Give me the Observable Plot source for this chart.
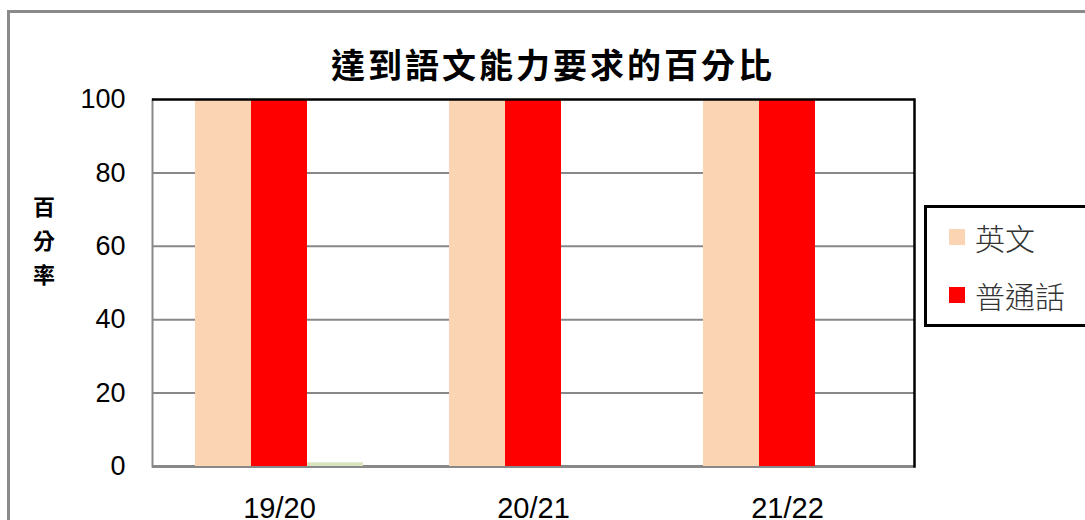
<!DOCTYPE html>
<html>
<head>
<meta charset="utf-8">
<script src="https://cdn.jsdelivr.net/npm/d3@7"></script>
<script src="https://cdn.jsdelivr.net/npm/@observablehq/plot@0.6"></script>
<style>
  html, body { margin: 0; padding: 0; background: #fff; }
  #wrap { position: relative; width: 1085px; height: 520px; overflow: hidden; background: #fff; }
  #outer { position: absolute; left: 7px; top: 10px; width: 1200px; height: 700px; border: 3px solid #8a8a8a; box-sizing: border-box; }
  #title { position: absolute; left: 0; width: 1106px; top: 44px; text-align: center; font-family: "Noto Sans CJK TC", sans-serif; font-weight: 700; font-size: 34px; line-height: 40px; letter-spacing: 3px; color: #000; }
  #ylabel { position: absolute; left: 31px; top: 188px; width: 26px; font-family: "Noto Sans CJK TC", sans-serif; font-weight: 700; font-size: 22px; line-height: 34px; color: #000; text-align: center; }
  #chart { position: absolute; left: 0; top: 0; }
  #chart g[aria-label="x-axis tick label"] { font-size: 29px; }
  #chart g[aria-label="y-axis tick label"] { font-size: 27px; }
  #legend { position: absolute; left: 924px; top: 205px; width: 200px; height: 122px; border: 3px solid #000; box-sizing: border-box; background: #fff; }
  .item { position: absolute; left: 22px; height: 40px; display: flex; align-items: center; font-family: "Noto Sans CJK TC", sans-serif; font-size: 30px; font-weight: 300; color: #333; }
  .sw { width: 16px; height: 16px; margin-right: 10px; }
</style>
</head>
<body>
<div id="wrap">
  <div id="outer"></div>
  <div id="chart"></div>
  <div id="title"></div>
  <div id="ylabel"></div>
  <div id="legend"></div>
</div>
<script>
// ---- data ----
const years = ["19/20", "20/21", "21/22"];
const seriesNames = ["英文", "普通話"];
const english = [100, 100, 100];
const putonghua = [100, 100, 100];
const thirdSeries = [1, 0, 0];
const yTicks = [0, 20, 40, 60, 80, 100];
const gridValues = [20, 40, 60, 80];
const titleText = "達到語文能力要求的百分比";
const yLabelText = "百分率";
const colors = { en: "#FBD4B4", pth: "#FF0000", third: "#D7E4BD" };

const rows = (vals) => years.map((y, i) => ({ year: y, value: vals[i] }));

document.getElementById("title").textContent = titleText;
document.getElementById("ylabel").innerHTML = [...yLabelText].map(c => `<div>${c}</div>`).join("");

const chart = Plot.plot({
  width: 940,
  height: 520,
  marginTop: 99,
  marginBottom: 54,
  marginLeft: 152,
  marginRight: 26,
  style: { fontFamily: "'Liberation Sans', Arial, sans-serif", fontSize: "26px", color: "#000", background: "transparent" },
  x: { domain: years, paddingInner: 0.3386, paddingOuter: 0.1693, tickSize: 0, tickPadding: 31, label: null },
  y: { domain: [0, 100], ticks: yTicks, tickSize: 0, tickPadding: 27, label: null },
  marks: [
    Plot.ruleY(gridValues, { stroke: "#888", strokeWidth: 2 }),
    Plot.frame({ anchor: "left", stroke: "#888", strokeWidth: 2 }),
    Plot.ruleY([0], { stroke: "#888", strokeWidth: 3 }),
    Plot.barY(rows(english), { x: "year", y: "value", fill: colors.en, insetRight: 112 }),
    Plot.barY(rows(putonghua), { x: "year", y: "value", fill: colors.pth, insetLeft: 56, insetRight: 56 }),
    Plot.barY(rows(thirdSeries), { x: "year", y: "value", fill: colors.third, insetLeft: 112 }),
    Plot.ruleY([100], { stroke: "#000", strokeWidth: 2.5 }),
    Plot.frame({ anchor: "right", stroke: "#000", strokeWidth: 2.5 })
  ]
});
document.getElementById("chart").appendChild(chart);

// legend
const legend = document.getElementById("legend");
const legendColors = [colors.en, colors.pth];
const legendTops = [9, 67];
seriesNames.forEach((name, i) => {
  const it = document.createElement("div");
  it.className = "item";
  it.style.top = legendTops[i] + "px";
  it.innerHTML = `<span class="sw" style="background:${legendColors[i]}"></span><span>${name}</span>`;
  legend.appendChild(it);
});
</script>
</body>
</html>
